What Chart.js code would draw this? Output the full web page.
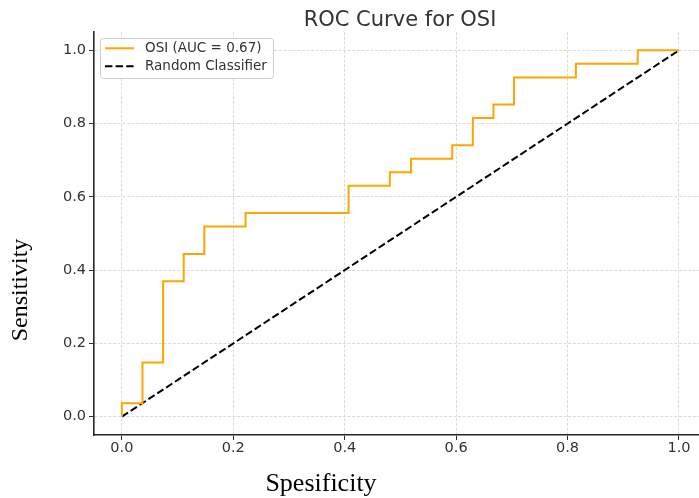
<!DOCTYPE html>
<html><head><meta charset="utf-8">
<script src="https://cdn.jsdelivr.net/npm/chart.js@4.4.0/dist/chart.umd.min.js"></script>
<style>html,body{margin:0;padding:0;background:#fff;overflow:hidden}#wrap{width:699px;height:498px;position:relative}</style>
</head><body><div id="wrap"><canvas id="c" width="699" height="498"></canvas></div>
<script>
const chartTitle = 'ROC Curve for OSI';
const xAxisTitle = 'Spesificity';
const yAxisTitle = 'Sensitivity';
const rocLabel = 'OSI (AUC = 0.67)';
const diagLabel = 'Random Classifier';
const rocFpr = [0, 0, 0.037, 0.037, 0.074, 0.074, 0.111, 0.111, 0.148, 0.148, 0.222, 0.222, 0.407, 0.407, 0.481, 0.481, 0.519, 0.519, 0.593, 0.593, 0.630, 0.630, 0.667, 0.667, 0.704, 0.704, 0.815, 0.815, 0.926, 0.926, 1.0];
const rocTpr = [0, 0.037, 0.037, 0.148, 0.148, 0.370, 0.370, 0.444, 0.444, 0.519, 0.519, 0.556, 0.556, 0.630, 0.630, 0.667, 0.667, 0.704, 0.704, 0.741, 0.741, 0.815, 0.815, 0.852, 0.852, 0.926, 0.926, 0.963, 0.963, 1.0, 1.0];
const diagX = [0, 1];
const diagY = [0, 1];
const xTicks = [0, 0.2, 0.4, 0.6, 0.8, 1.0];
const yTicks = [0, 0.2, 0.4, 0.6, 0.8, 1.0];

const ORANGE = '#FFA500';
const DASH = [7.4, 3.2];
const tickFont = {family: 'DejaVu Sans', size: 14.5};

const overlay = {
  id: 'overlay',
  afterDraw(chart) {
    const ctx = chart.ctx;
    ctx.save();
    // title
    ctx.fillStyle = '#333';
    ctx.font = '21px "DejaVu Sans"';
    ctx.textAlign = 'center';
    ctx.textBaseline = 'alphabetic';
    ctx.fillText(chartTitle, 400, 26);
    // x axis title
    ctx.fillStyle = '#000';
    ctx.font = '26px "Liberation Serif"';
    ctx.fillText(xAxisTitle, 321, 490.5);
    // y axis title
    ctx.save();
    ctx.translate(27, 290);
    ctx.rotate(-Math.PI / 2);
    ctx.font = '24px "Liberation Serif"';
    ctx.fillText(yAxisTitle, 0, 0);
    ctx.restore();
    // legend
    const bx = 100.5, by = 38.5, bw = 173, bh = 40;
    ctx.beginPath();
    ctx.roundRect(bx, by, bw, bh, 3);
    ctx.fillStyle = 'rgba(255,255,255,0.8)';
    ctx.fill();
    ctx.strokeStyle = '#cfcfcf';
    ctx.lineWidth = 1;
    ctx.stroke();
    const ds = chart.data.datasets;
    const rows = [48.3, 66.2];
    ds.forEach((d, i) => {
      ctx.beginPath();
      ctx.setLineDash(d.borderDash || []);
      ctx.strokeStyle = d.borderColor;
      ctx.lineWidth = d.borderWidth;
      ctx.moveTo(105, rows[i]);
      ctx.lineTo(134, rows[i]);
      ctx.stroke();
      ctx.setLineDash([]);
      ctx.fillStyle = '#333';
      ctx.font = '13.5px "DejaVu Sans"';
      ctx.textAlign = 'left';
      ctx.textBaseline = 'middle';
      ctx.fillText(d.label, 145, rows[i] + 0.5);
    });
    ctx.restore();
  }
};

new Chart(document.getElementById('c'), {
  type: 'line',
  data: {
    datasets: [
      {
        label: rocLabel,
        data: rocFpr.map((x, i) => ({x: x, y: rocTpr[i]})),
        borderColor: ORANGE,
        borderWidth: 2,
        pointRadius: 0,
        fill: false,
        tension: 0
      },
      {
        label: diagLabel,
        data: diagX.map((x, i) => ({x: x, y: diagY[i]})),
        borderColor: '#000000',
        borderWidth: 2,
        borderDash: DASH,
        pointRadius: 0,
        fill: false,
        tension: 0
      }
    ]
  },
  options: {
    responsive: false,
    animation: false,
    devicePixelRatio: 1,
    layout: {padding: {top: 32, left: 0, right: 0, bottom: 0}},
    plugins: {legend: {display: false}, title: {display: false}, tooltip: {enabled: false}},
    scales: {
      x: {
        type: 'linear',
        min: -0.05,
        max: 1.036,
        afterBuildTicks: s => { s.ticks = xTicks.map(v => ({value: v})); },
        afterFit: s => { s.height = 63; },
        ticks: {font: tickFont, color: '#333', padding: 0, maxRotation: 0, autoSkip: false,
          callback: v => Number(v).toFixed(1)},
        grid: {color: '#d2d2d2', lineWidth: 0.8, tickColor: '#333', tickLength: 5, tickWidth: 1, tickBorderDash: []},
        border: {display: true, color: '#262626', width: 1.6, dash: [3, 1.6]}
      },
      y: {
        type: 'linear',
        min: -0.05,
        max: 1.05,
        afterBuildTicks: s => { s.ticks = yTicks.map(v => ({value: v})); },
        afterFit: s => { s.width = 94; },
        ticks: {font: tickFont, color: '#333', padding: 3, autoSkip: false,
          callback: v => Number(v).toFixed(1)},
        grid: {color: '#d2d2d2', lineWidth: 0.8, tickColor: '#333', tickLength: 5, tickWidth: 1, tickBorderDash: []},
        border: {display: true, color: '#262626', width: 1.6, dash: [3, 1.6]}
      }
    }
  },
  plugins: [overlay]
});
</script>
</body></html>
